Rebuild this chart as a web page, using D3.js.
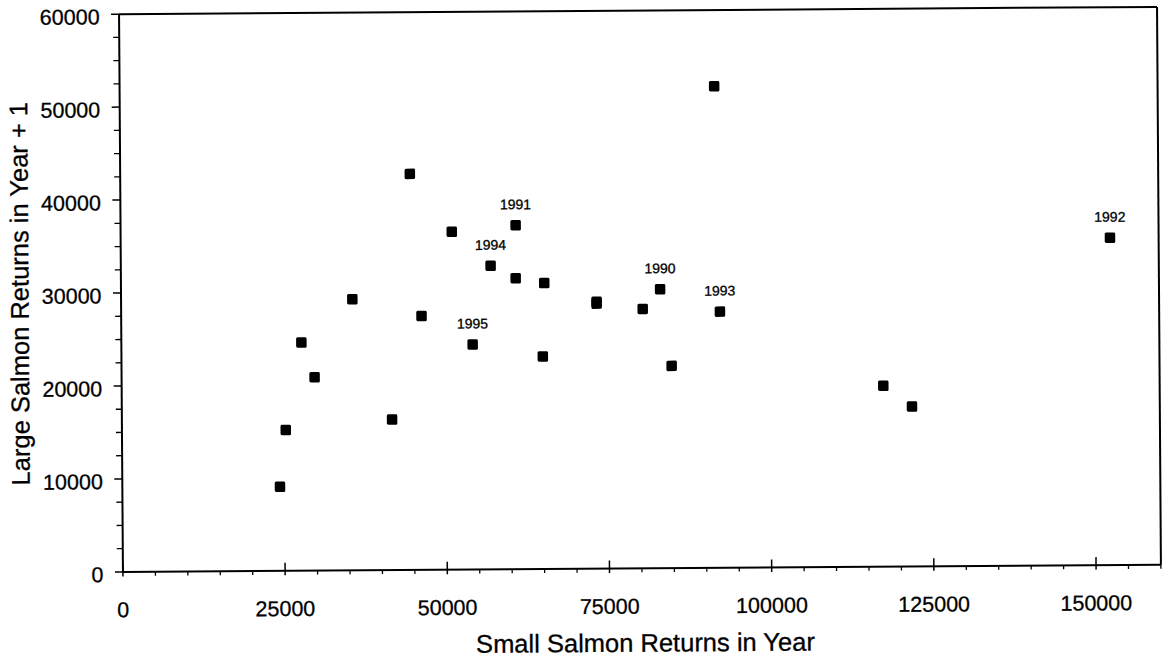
<!DOCTYPE html>
<html>
<head>
<meta charset="utf-8">
<script src="https://cdn.jsdelivr.net/npm/d3@7"></script>
<style>
  html, body { margin: 0; padding: 0; background: #fff; }
  svg { display: block; font-family: "Liberation Sans", Arial, Helvetica, sans-serif; }
  svg text { stroke: #000; stroke-width: 0.3px; }
</style>
</head>
<body>
<svg id="chart" width="1162" height="661"></svg>
<script>
// Small salmon returns in a year vs. large salmon returns the following year
const smallReturns = [24300, 25250, 27750, 29750, 35650, 41650, 44650, 46300, 51050, 54150,
                      57000, 60900, 60850, 64950, 65250, 73300, 73300, 80400, 83100, 84800,
                      91650, 92300, 117400, 121800, 152500];
const largeReturnsNext = [9050, 15150, 24550, 20800, 29150, 16200, 42600, 27300, 36350, 24200,
                          32650, 37000, 31300, 22850, 30750, 28700, 28500, 27900, 30000, 21750,
                          51800, 27550, 19450, 17200, 35200];
const yearLabels = ["", "", "", "", "", "", "", "", "", "1995",
                    "1994", "1991", "", "", "", "", "", "", "1990", "",
                    "", "1993", "", "", "1992"];

const xTickValues = [0, 25000, 50000, 75000, 100000, 125000, 150000];
const yTickValues = [0, 10000, 20000, 30000, 40000, 50000, 60000];
const xTitle = "Small Salmon Returns in Year";
const yTitle = "Large Salmon Returns in Year + 1";

const plotL = 121, plotR = 1159, plotT = 10.5, plotB = 568.3;
const ink = "#000";

// The printed figure sits very slightly askew on the page
const root = d3.select("#chart").append("g")
  .attr("transform", `rotate(-0.4, 640, 292)`);

const x = d3.scaleLinear().domain([0, 160000]).range([plotL, plotR]);
const y = d3.scaleLinear().domain([0, 60000]).range([plotB, plotT]);

// Frame: top and right border
root.append("line").attr("x1", plotL).attr("x2", plotR).attr("y1", plotT).attr("y2", plotT)
  .attr("stroke", ink).attr("stroke-width", 2);
root.append("line").attr("x1", plotR).attr("x2", plotR).attr("y1", plotT).attr("y2", plotB)
  .attr("stroke", ink).attr("stroke-width", 2);

// Minor tick positions
const xMinor = d3.range(0, 160001, 5000).filter(v => !xTickValues.includes(v));
const yMinor = d3.range(0, 60001, 2500).filter(v => !yTickValues.includes(v));

// X axis
const xAxis = root.append("g");
xAxis.append("line").attr("x1", plotL).attr("x2", plotR).attr("y1", plotB).attr("y2", plotB)
  .attr("stroke", ink).attr("stroke-width", 2);
xAxis.selectAll("line.minor").data(xMinor).join("line").attr("class", "minor")
  .attr("x1", d => x(d)).attr("x2", d => x(d)).attr("y1", plotB).attr("y2", plotB + 4)
  .attr("stroke", ink).attr("stroke-width", 1.3);
xAxis.selectAll("line.major").data(xTickValues).join("line").attr("class", "major")
  .attr("x1", d => x(d)).attr("x2", d => x(d)).attr("y1", plotB - 8).attr("y2", plotB + 4.5)
  .attr("stroke", ink).attr("stroke-width", 1.5);
xAxis.selectAll("text").data(xTickValues).join("text")
  .attr("x", d => x(d)).attr("y", 613.6).attr("text-anchor", "middle")
  .attr("font-size", 21.5).attr("fill", ink).text(d => d);

// Y axis
const yAxis = root.append("g");
yAxis.append("line").attr("x1", plotL).attr("x2", plotL).attr("y1", plotT).attr("y2", plotB)
  .attr("stroke", ink).attr("stroke-width", 2);
yAxis.selectAll("line.minor").data(yMinor).join("line").attr("class", "minor")
  .attr("x1", plotL - 6).attr("x2", plotL).attr("y1", d => y(d)).attr("y2", d => y(d))
  .attr("stroke", ink).attr("stroke-width", 1.3);
yAxis.selectAll("line.major").data(yTickValues).join("line").attr("class", "major")
  .attr("x1", plotL - 8).attr("x2", plotL).attr("y1", d => y(d)).attr("y2", d => y(d))
  .attr("stroke", ink).attr("stroke-width", 1.5);
yAxis.selectAll("text").data(yTickValues).join("text")
  .attr("x", 101.5).attr("y", d => y(d) + 10.2).attr("text-anchor", "end")
  .attr("font-size", 21.5).attr("fill", ink).text(d => d);

// Axis titles
root.append("text").attr("x", 643).attr("y", 651.7).attr("text-anchor", "middle")
  .attr("font-size", 25.5).attr("fill", ink).text(xTitle);
root.append("text").attr("transform", `translate(28.5,${(plotT + plotB) / 2}) rotate(-90)`)
  .attr("text-anchor", "middle").attr("font-size", 25.5).attr("fill", ink).text(yTitle);

// Points
const pts = smallReturns.map((v, i) => ({ sx: v, ly: largeReturnsNext[i], year: yearLabels[i] }));
const s = 10.5;
root.append("g").selectAll("rect").data(pts).join("rect")
  .attr("x", d => x(d.sx) - s / 2).attr("y", d => y(d.ly) - s / 2)
  .attr("width", s).attr("height", s).attr("rx", 1.5).attr("fill", ink);

// Year annotations
root.append("g").selectAll("text").data(pts.filter(d => d.year)).join("text")
  .attr("x", d => x(d.sx)).attr("y", d => y(d.ly) - 16).attr("text-anchor", "middle")
  .attr("font-size", 14).attr("fill", ink).text(d => d.year);
</script>
</body>
</html>
